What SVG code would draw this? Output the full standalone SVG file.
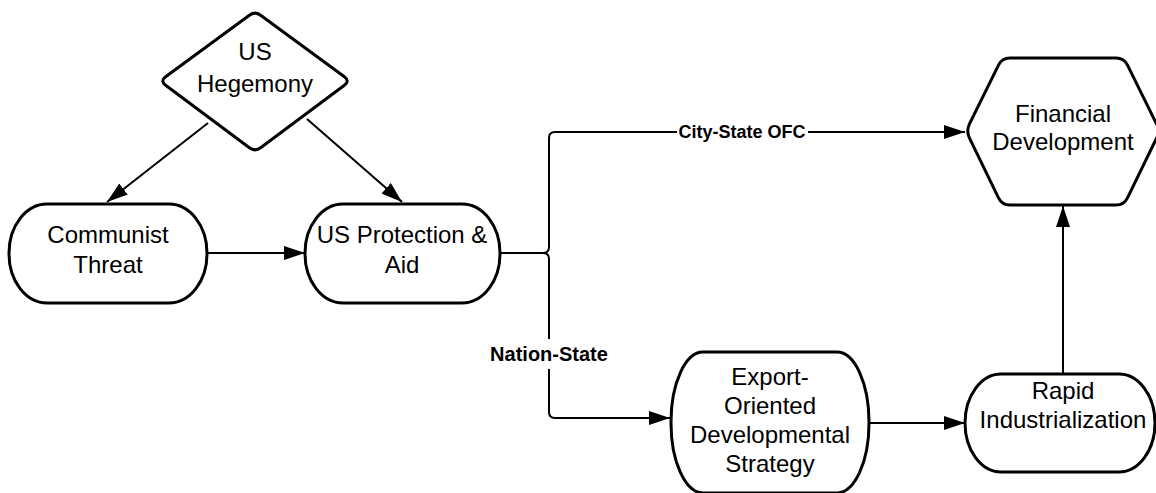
<svg xmlns="http://www.w3.org/2000/svg" width="1156" height="493" viewBox="0 0 1156 493">
<style>
.shape{fill:#fff;stroke:#000;stroke-width:3;stroke-linejoin:round}
.conn{fill:none;stroke:#000;stroke-width:2}
.t{font-family:"Liberation Sans",Arial,sans-serif;font-size:24px;fill:#000;text-anchor:middle}
.lbl{font-family:"Liberation Sans",Arial,sans-serif;font-weight:bold;fill:#000;text-anchor:middle}
</style>
<defs>
<marker id="arr" markerUnits="userSpaceOnUse" markerWidth="21" markerHeight="14" refX="21" refY="7" orient="auto">
<path d="M0,0 L21,7 L0,14 z" fill="#000"/>
</marker>
</defs>
<rect width="1156" height="493" fill="#fff"/>
<g id="connectors">
<path class="conn" d="M208,123 L107,202" marker-end="url(#arr)"/>
<path class="conn" d="M307,119 L402,202" marker-end="url(#arr)"/>
<path class="conn" d="M207,253 H305" marker-end="url(#arr)"/>
<path class="conn" d="M500,253 H543 Q549,253 549,247 V138 Q549,132 555,132 H965" marker-end="url(#arr)"/>
<path class="conn" d="M543,253 Q549,253 549,259 V412 Q549,418 555,418 H670" marker-end="url(#arr)"/>
<path class="conn" d="M869,423 H965" marker-end="url(#arr)"/>
<path class="conn" d="M1063,374 V206" marker-end="url(#arr)"/>
<rect x="677" y="118" width="131" height="26" fill="#fff"/>
<text class="lbl" x="742" y="138" font-size="18">City-State OFC</text>
<rect x="484" y="339" width="130" height="30" fill="#fff"/>
<text class="lbl" x="549" y="361" font-size="20">Nation-State</text>
</g>
<g id="us-hegemony">
<path class="shape" d="M260.6,15.2 L344.4,76.8 Q350,81 344.4,85.2 L260.6,147.8 Q255,152 249.4,147.8 L165.6,85.2 Q160,81 165.6,76.8 L249.4,15.2 Q255,11 260.6,15.2 Z"/>
<text class="t" x="255" y="60">US</text>
<text class="t" x="255" y="92">Hegemony</text>
</g>
<g id="communist-threat">
<rect class="shape" x="9" y="204" width="198" height="99" rx="38" ry="49"/>
<text class="t" x="108" y="243">Communist</text>
<text class="t" x="108" y="273">Threat</text>
</g>
<g id="us-protection">
<rect class="shape" x="305" y="204" width="195" height="99" rx="38" ry="49"/>
<text class="t" x="402" y="243">US Protection &amp;</text>
<text class="t" x="402" y="273">Aid</text>
</g>
<g id="export-strategy">
<rect class="shape" x="671" y="352" width="198" height="141" rx="32" ry="70"/>
<text class="t" x="770" y="385">Export-</text>
<text class="t" x="770" y="414">Oriented</text>
<text class="t" x="770" y="443">Developmental</text>
<text class="t" x="770" y="472">Strategy</text>
</g>
<g id="rapid-industrialization">
<rect class="shape" x="965" y="374" width="190" height="98" rx="36" ry="49"/>
<text class="t" x="1063" y="399">Rapid</text>
<text class="t" x="1063" y="428">Industrialization</text>
</g>
<g id="financial-development">
<path class="shape" d="M1010,58 H1116 Q1124,58 1127.5,65.2 L1156.5,123.8 Q1160,131 1156.5,138.2 L1127.5,197.8 Q1124,205 1116,205 H1010 Q1002,205 998.5,197.8 L969.5,138.2 Q966,131 969.5,123.8 L998.5,65.2 Q1002,58 1010,58 Z"/>
<text class="t" x="1063" y="122">Financial</text>
<text class="t" x="1063" y="150">Development</text>
</g>
</svg>
